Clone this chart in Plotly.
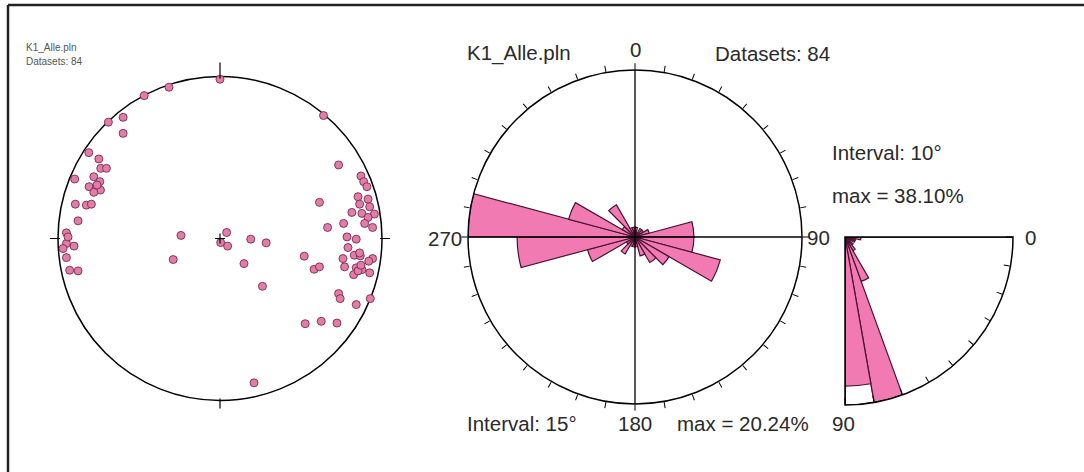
import plotly.graph_objects as go

W, H = 1084, 472

# ---------------- data ----------------
# stereonet poles, projected coordinates on the unit net (x east, y north)
pole_x = [0.000, -0.315, -0.468, -0.598, -0.689, -0.598, 0.639, -0.810, -0.748, -0.736,
          -0.701, -0.897, -0.779, -0.742, -0.808, -0.763, -0.738, -0.779, -0.893, -0.825,
          -0.794, -0.876, -0.948, -0.948, -0.969, -0.901, -0.948, -0.928, -0.876, -0.241,
          -0.289, 0.041, 0.004, 0.047, 0.190, 0.285, 0.148, 0.262, 0.210, 0.732,
          0.870, 0.887, 0.614, 0.852, 0.914, 0.862, 0.924, 0.814, 0.876, 0.953,
          0.914, 0.893, 0.942, 0.763, 0.664, 0.784, 0.841, 0.790, 0.829, 0.866,
          0.942, 0.918, 0.759, 0.520, 0.769, 0.841, 0.876, 0.924, 0.825, 0.852,
          0.581, 0.614, 0.732, 0.742, 0.928, 0.841, 0.526, 0.625, 0.722, 0.862,
          0.907, -0.759, -0.938, 0.870]
pole_y = [0.983, 0.934, 0.882, 0.748, 0.718, 0.649, 0.759, 0.530, 0.491, 0.433,
          0.433, 0.367, 0.381, 0.351, 0.320, 0.315, 0.299, 0.285, 0.212, 0.206,
          0.212, 0.109, 0.035, -0.031, -0.062, -0.047, -0.118, -0.196, -0.200, 0.019,
          -0.130, 0.037, -0.025, -0.047, -0.004, -0.027, -0.155, -0.295, -0.891, 0.454,
          0.386, 0.351, 0.223, 0.258, 0.243, 0.212, 0.196, 0.161, 0.155, 0.151,
          0.130, 0.093, 0.068, 0.093, 0.068, 0.010, -0.004, -0.056, -0.103, -0.107,
          -0.124, -0.140, -0.124, -0.109, -0.175, -0.181, -0.192, -0.212, -0.223, -0.200,
          -0.190, -0.175, -0.340, -0.371, -0.371, -0.408, -0.526, -0.511, -0.522, -0.089,
          0.320, 0.330, 0.010, -0.165]

# strike rose, 15 degree bins, percent
strike_bins = [7.5 + 15 * i for i in range(24)]
strike_pct = [1.19, 0.60, 1.19, 1.19, 1.79, 7.14, 7.14, 10.71, 4.76, 3.57, 2.38, 1.19,
              1.19, 1.19, 2.38, 1.19, 5.95, 14.29, 20.24, 8.33, 1.79, 4.50, 1.19, 1.19]
strike_max = 20.24

# dip rose, 10 degree bins, percent
dip_bins = [5, 15, 25, 35, 45, 55, 65, 75, 85]
dip_pct = [3.6, 2.4, 2.4, 1.2, 2.4, 3.6, 10.7, 38.10, 33.8]
dip_outline_bin = [85]
dip_outline_pct = [38.10]
dip_max = 38.10

PINK = "#F27AB3"
EDGE = "#4A1232"
TXT = "#2a2a2a"
FONT = "Liberation Sans, Arial"


def px(x):
    return x / W


def py(y):
    return 1 - y / H


fig = go.Figure()

# ---------------- left stereonet ----------------
cx, cy, R = 220, 238.5, 162
ext = 1.15
fig.add_trace(go.Scatter(
    x=pole_x, y=pole_y, mode="markers", xaxis="x", yaxis="y",
    marker=dict(size=8, color="#E27DA6", line=dict(color="#7B2A53", width=0.9)),
    hoverinfo="skip", showlegend=False))

shapes = []
shapes.append(dict(type="circle", xref="x", yref="y", x0=-1, y0=-1, x1=1, y1=1,
                   line=dict(color="black", width=1.5), layer="below"))
tick_specs = [(0, 0.988, 0, 1.086), (0, -0.988, 0, -1.05),
              (0.988, 0, 1.05, 0), (-0.988, 0, -1.05, 0),
              (-0.031, 0, 0.031, 0), (0, -0.031, 0, 0.031)]
for x0, y0, x1, y1 in tick_specs:
    shapes.append(dict(type="line", xref="x", yref="y", x0=x0, y0=y0, x1=x1, y1=y1,
                       line=dict(color="black", width=1.2)))

# outer frame (top and left edges visible; the rest runs past the picture)
shapes.append(dict(type="line", xref="paper", yref="paper",
                   x0=px(8), x1=px(1084), y0=py(5), y1=py(5),
                   line=dict(color="#222", width=2.5)))
shapes.append(dict(type="line", xref="paper", yref="paper",
                   x0=px(8), x1=px(8), y0=py(5), y1=py(472),
                   line=dict(color="#222", width=2.5)))

# ---------------- middle rose (strikes) ----------------
fig.add_trace(go.Barpolar(
    r=strike_pct, theta=strike_bins, width=[15] * 24, subplot="polar",
    marker=dict(color=PINK, line=dict(color=EDGE, width=1.2)),
    hoverinfo="skip", showlegend=False))
for th in ([0, 180], [90, 270]):
    fig.add_trace(go.Scatterpolar(
        r=[strike_max * 1.05, 0, strike_max * 1.05], theta=[th[0], th[0], th[1]],
        mode="lines", subplot="polar", cliponaxis=False,
        line=dict(color="black", width=1.3), hoverinfo="skip", showlegend=False))

# ---------------- right quarter rose (dips) ----------------
fig.add_trace(go.Barpolar(
    r=dip_outline_pct, theta=dip_outline_bin, width=[10], subplot="polar2",
    marker=dict(color="white", line=dict(color=EDGE, width=1.2)),
    hoverinfo="skip", showlegend=False))
fig.add_trace(go.Barpolar(
    r=dip_pct, theta=dip_bins, width=[10] * len(dip_bins), subplot="polar2",
    marker=dict(color=PINK, line=dict(color=EDGE, width=1.2)),
    hoverinfo="skip", showlegend=False))
fig.add_trace(go.Scatterpolar(
    r=[dip_max, 0, dip_max], theta=[0, 0, 90], mode="lines", subplot="polar2",
    cliponaxis=False, line=dict(color="black", width=1.3),
    hoverinfo="skip", showlegend=False))

mcx, mcy, mR = 635, 237, 167
qcx, qcy, qR = 845, 237, 168

ann = []


def text(x, y, s, size=20.5, xa="left", color=TXT):
    ann.append(dict(x=px(x), y=py(y), xref="paper", yref="paper", text=s,
                    showarrow=False, xanchor=xa, yanchor="middle",
                    font=dict(size=size, color=color, family=FONT)))


text(24, 48, "K1_Alle.pln", size=10, color="#555")
text(24, 62, "Datasets: 84", size=10, color="#555")
text(465, 53, "K1_Alle.pln")
text(635, 50, "0", xa="center")
text(832, 53, "Datasets: 84", xa="right")
text(464, 238, "270", xa="right")
text(805, 237, "90")
text(635, 423, "180", xa="center")
text(465, 423, "Interval: 15°")
text(675, 423, "max = 20.24%")
text(830, 152, "Interval: 10°")
text(830, 195, "max = 38.10%")
text(1023, 237, "0")
text(843, 423, "90", xa="center")

fig.update_layout(
    width=W, height=H, margin=dict(l=0, r=0, t=0, b=0),
    paper_bgcolor="white", plot_bgcolor="white",
    xaxis=dict(range=[-ext, ext], domain=[px(cx - R * ext), px(cx + R * ext)],
               visible=False, fixedrange=True),
    yaxis=dict(range=[-ext, ext], domain=[py(cy + R * ext), py(cy - R * ext)],
               visible=False, fixedrange=True),
    polar=dict(
        domain=dict(x=[px(mcx - mR), px(mcx + mR)], y=[py(mcy + mR), py(mcy - mR)]),
        bgcolor="white", barmode="overlay", bargap=0,
        radialaxis=dict(visible=False, range=[0, strike_max]),
        angularaxis=dict(rotation=90, direction="clockwise", showgrid=False,
                         showline=True, linecolor="black", linewidth=1.5,
                         ticks="outside", ticklen=6, tickcolor="black", tickwidth=1.2,
                         tickmode="linear", tick0=0, dtick=10, showticklabels=False)),
    polar2=dict(
        domain=dict(x=[px(qcx), px(qcx + qR)], y=[py(qcy + qR), py(qcy)]),
        sector=[270, 360], bgcolor="white", barmode="overlay", bargap=0,
        radialaxis=dict(visible=False, range=[0, dip_max]),
        angularaxis=dict(rotation=0, direction="clockwise", showgrid=False,
                         showline=True, linecolor="black", linewidth=1.5,
                         ticks="inside", ticklen=6, tickcolor="black", tickwidth=1.2,
                         tickmode="linear", tick0=0, dtick=10, showticklabels=False)),
    shapes=shapes, annotations=ann,
)

fig.write_html("out.html")
